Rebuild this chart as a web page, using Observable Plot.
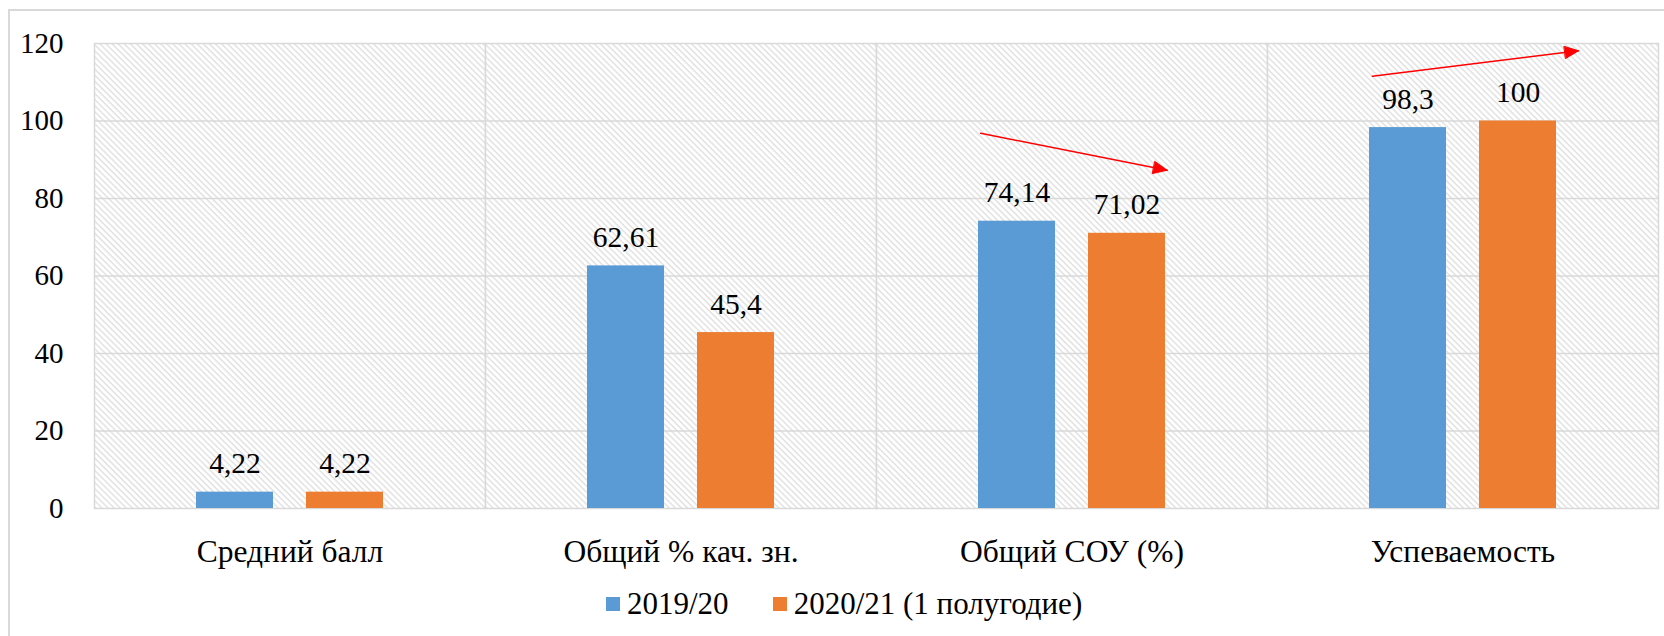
<!DOCTYPE html>
<html><head><meta charset="utf-8">
<script src="https://cdn.jsdelivr.net/npm/d3@7"></script>
<script src="https://cdn.jsdelivr.net/npm/@observablehq/plot@0.6"></script>
<style>
html,body{margin:0;padding:0;background:#fff;width:1664px;height:636px;overflow:hidden;font-family:'Liberation Serif', Tinos, 'Times New Roman', serif;}
#wrap{position:relative;width:1664px;height:636px;color:#000;}
#border{position:absolute;left:8px;top:9px;width:1720px;height:700px;border:2px solid #d9d9d9;box-sizing:border-box;}
#chart{position:absolute;left:0;top:0;}
#legend{position:absolute;left:606px;top:587px;height:34px;display:flex;align-items:center;font-size:31px;white-space:nowrap;}
.item{display:flex;align-items:center;margin-right:44px;}
.sw{display:inline-block;width:14px;height:14px;margin-right:7px;}
</style></head><body>
<div id="wrap"><div id="border"></div><div id="chart"></div><div id="legend"></div></div>
<script>
const categories = ["Средний балл", "Общий % кач. зн.", "Общий СОУ (%)", "Успеваемость"];
const series = ["2019/20", "2020/21 (1 полугодие)"];
const values2019 = [4.22, 62.61, 74.14, 98.3];
const values2020 = [4.22, 45.4, 71.02, 100];
const yTicks = [0, 20, 40, 60, 80, 100, 120];
const seriesColors = ["#5b9bd5", "#ed7d31"];
const trendCats = ["Общий СОУ (%)", "Успеваемость"];
const trendFrom = [94.97, 112.7];
const trendTo = [89.36, 116.2];

const data = categories.flatMap((c, i) => [
  {cat: c, series: series[0], value: values2019[i]},
  {cat: c, series: series[1], value: values2020[i]}
]);
const arrows = trendCats.map((c, i) => ({cat: c, from: series[0], to: series[1], y1: trendFrom[i], y2: trendTo[i]}));
const fmt = v => String(v).replace(".", ",");

const arrowOpts = {fx: "cat", x1: "from", x2: "to", y1: "y1", y2: "y2", stroke: "#ff0000", strokeWidth: 1.5, headLength: 15, headAngle: 48};

const plot = Plot.plot({
  width: 1664, height: 580,
  marginLeft: 94, marginRight: 6, marginTop: 43, marginBottom: 72,
  style: "font-family: 'Liberation Serif', serif; color: #000; background: transparent; overflow: visible;",
  fx: {domain: categories, padding: 0, label: null},
  x: {domain: series, paddingInner: 0.3, paddingOuter: 0.927, axis: null},
  y: {domain: [0, 120]},
  color: {domain: series, range: seriesColors},
  marks: [
    Plot.frame({fill: "url(#hatch)", stroke: "#d9d9d9", strokeWidth: 1.5}),
    Plot.ruleY(yTicks.slice(1, -1), {stroke: "#d9d9d9", strokeWidth: 1.5}),
    Plot.barY(data, {fx: "cat", x: "series", y: "value", fill: "series"}),
    Plot.text(data, {fx: "cat", x: "series", y: "value", text: d => fmt(d.value), lineAnchor: "bottom", dy: -19, fontSize: 29.5, fill: "#000"}),
    Plot.arrow(arrows.slice(0, 1), {...arrowOpts, insetStart: -37, insetEnd: -41}),
    Plot.arrow(arrows.slice(1, 2), {...arrowOpts, insetStart: -36, insetEnd: -61}),
    Plot.axisY({ticks: yTicks, tickSize: 0, tickPadding: 31, fontSize: 29, label: null}),
    Plot.axisFx({anchor: "bottom", tickSize: 0, tickPadding: 31, fontSize: 31.5, label: null})
  ]
});

// hatch pattern for the plot area
const defs = d3.select(plot).insert("defs", ":first-child");
const pat = defs.append("pattern").attr("id", "hatch").attr("patternUnits", "userSpaceOnUse")
  .attr("width", 4.3).attr("height", 4.3).attr("patternTransform", "rotate(-45)");
pat.append("rect").attr("width", 4.3).attr("height", 4.3).attr("fill", "#fff");
pat.append("line").attr("x1", 1).attr("x2", 1).attr("y1", 0).attr("y2", 4.3)
  .attr("stroke", "#dedede").attr("stroke-width", 1.3);

// filled arrow heads
d3.select(plot).selectAll('g[aria-label="arrow"] path').each(function () {
  const d = this.getAttribute("d");
  if (!d) return;
  const parts = d.split("M").filter(Boolean);
  if (parts.length < 2) return;
  this.setAttribute("d", "M" + parts[0]);
  const head = document.createElementNS("http://www.w3.org/2000/svg", "path");
  head.setAttribute("d", "M" + parts[1] + "Z");
  head.setAttribute("fill", "#ff0000");
  head.setAttribute("stroke", "#ff0000");
  head.setAttribute("stroke-width", "1");
  head.setAttribute("stroke-linejoin", "miter");
  this.parentNode.appendChild(head);
});

document.getElementById("chart").appendChild(plot);

const legend = document.getElementById("legend");
series.forEach((s, i) => {
  const item = document.createElement("span");
  item.className = "item";
  const sw = document.createElement("span");
  sw.className = "sw";
  sw.style.background = seriesColors[i];
  item.appendChild(sw);
  item.appendChild(document.createTextNode(s));
  legend.appendChild(item);
});

getComputedStyle(plot.querySelector("text")).fontFamily;
document.fonts.check("30px 'Liberation Serif'");
void document.body.offsetHeight;
</script>
</body></html>
